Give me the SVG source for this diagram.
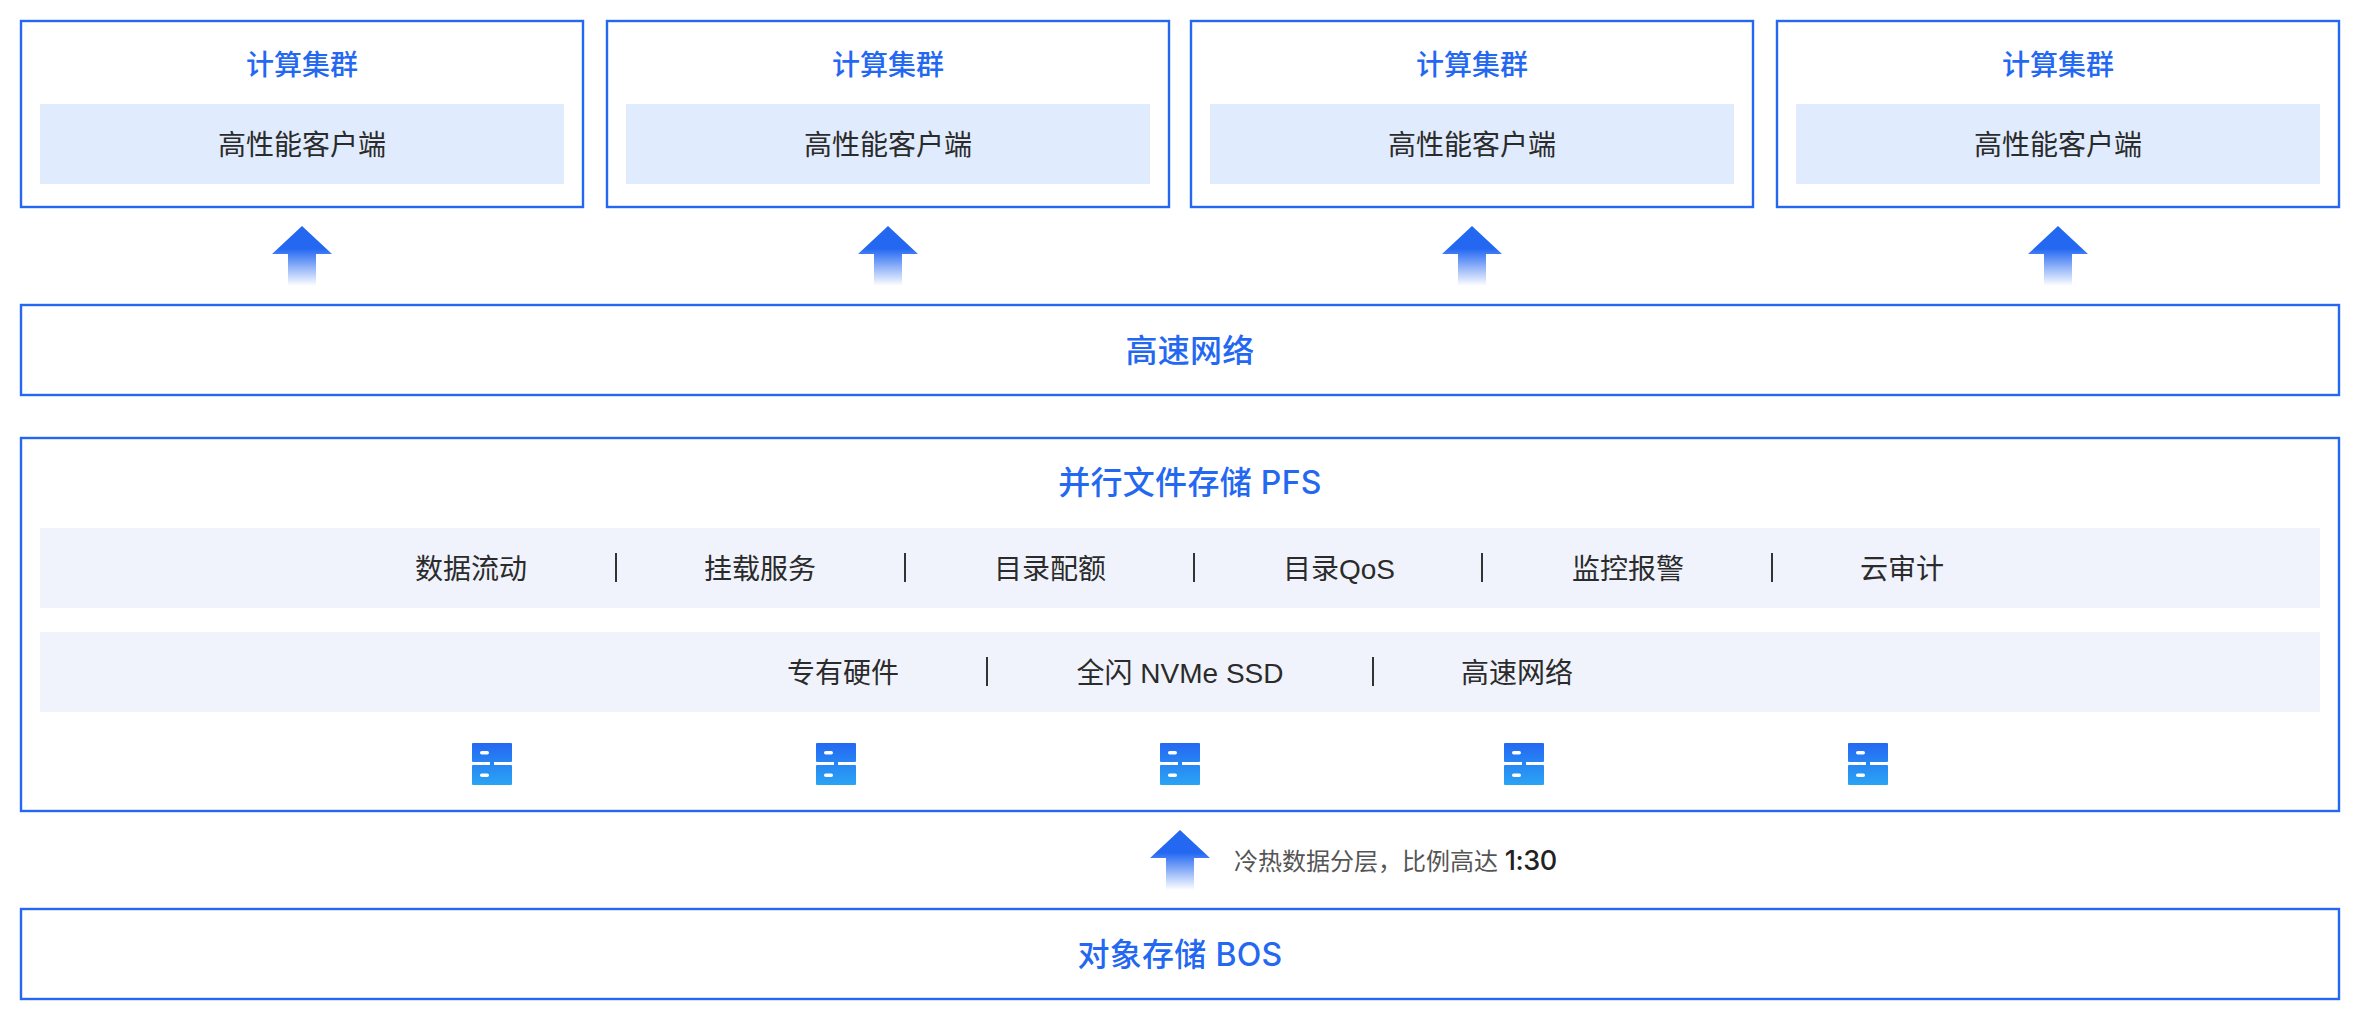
<svg xmlns="http://www.w3.org/2000/svg" xmlns:xlink="http://www.w3.org/1999/xlink" width="2360" height="1020" viewBox="0 0 2360 1020">
<style>
text{font-family:"Liberation Sans","Noto Sans CJK SC",sans-serif;text-anchor:middle}
.box{fill:#fff;stroke:#2468f2;stroke-width:2.400}
.lb{fill:#e0ecfd}
.band{fill:#f0f3fb}
.title{fill:#2468f2;font-size:28px;font-weight:500}
.head{fill:#2468f2;font-size:32px;font-weight:500;font-family:"Inter","Noto Sans CJK SC",sans-serif;letter-spacing:.3px}
.t{fill:#2b2b2b;font-size:28px;font-weight:400}
.sep{stroke:#333;stroke-width:2}
.note{fill:#555;font-size:24px;text-anchor:start}
.note tspan{fill:#222;font-size:27px;font-weight:500;font-family:"Inter",sans-serif;letter-spacing:-.4px}
</style>
<defs>
<linearGradient id="ag" x1="0" y1="0" x2="0" y2="1"><stop offset="0.38" stop-color="#2468f2"/><stop offset="1" stop-color="#2468f2" stop-opacity="0"/></linearGradient>
<linearGradient id="ig" x1="0" y1="0" x2="0" y2="1"><stop offset="0" stop-color="#2468f2"/><stop offset="1" stop-color="#2aa4f4"/></linearGradient>
<g id="arrow"><path d="M0 0L30 28H14V60H-14V28H-30Z" fill="url(#ag)"/></g>
<g id="icon"><path d="M1 0H39a1 1 0 0 1 1 1V18a1 1 0 0 1-1 1H22V22H39a1 1 0 0 1 1 1V41a1 1 0 0 1-1 1H1a1 1 0 0 1-1-1V23a1 1 0 0 1 1-1H18V19H1a1 1 0 0 1-1-1V1a1 1 0 0 1 1-1Z" fill="url(#ig)"/><rect x="8" y="8" width="9" height="3.500" rx="1.700" fill="#fff"/><rect x="8" y="30.500" width="9" height="3.500" rx="1.700" fill="#fff"/></g>
</defs>
<rect width="2360" height="1020" fill="#fff"/>
<g id="cluster-1"><rect class="box" x="21" y="21" width="562" height="186"/><text class="title" x="302" y="75">计算集群</text><rect class="lb" x="40" y="104" width="524" height="80"/><text class="t" x="302" y="155">高性能客户端</text></g>
<g id="cluster-2"><rect class="box" x="607" y="21" width="562" height="186"/><text class="title" x="888" y="75">计算集群</text><rect class="lb" x="626" y="104" width="524" height="80"/><text class="t" x="888" y="155">高性能客户端</text></g>
<g id="cluster-3"><rect class="box" x="1191" y="21" width="562" height="186"/><text class="title" x="1472" y="75">计算集群</text><rect class="lb" x="1210" y="104" width="524" height="80"/><text class="t" x="1472" y="155">高性能客户端</text></g>
<g id="cluster-4"><rect class="box" x="1777" y="21" width="562" height="186"/><text class="title" x="2058" y="75">计算集群</text><rect class="lb" x="1796" y="104" width="524" height="80"/><text class="t" x="2058" y="155">高性能客户端</text></g>
<g id="network"><rect class="box" x="21" y="305" width="2318" height="90"/><text class="head" x="1190" y="362">高速网络</text></g>
<g id="pfs"><rect class="box" x="21" y="438" width="2318" height="373"/><text class="head" x="1190" y="494">并行文件存储 PFS</text>
<rect class="band" x="40" y="528" width="2280" height="80"/>
<text class="t" x="471" y="579">数据流动</text><text class="t" x="760" y="579">挂载服务</text><text class="t" x="1050" y="579">目录配额</text><text class="t" x="1339" y="579">目录QoS</text><text class="t" x="1628" y="579">监控报警</text><text class="t" x="1902" y="579">云审计</text>
<path class="sep" d="M616 553V582M905 553V582M1194 553V582M1482 553V582M1772 553V582"/>
<rect class="band" x="40" y="632" width="2280" height="80"/>
<text class="t" x="843" y="683">专有硬件</text><text class="t" x="1180" y="683">全闪 NVMe SSD</text><text class="t" x="1517" y="683">高速网络</text>
<path class="sep" d="M987 657V686M1373 657V686"/>
<use href="#icon" x="472" y="743"/><use href="#icon" x="816" y="743"/><use href="#icon" x="1160" y="743"/><use href="#icon" x="1504" y="743"/><use href="#icon" x="1848" y="743"/>
</g>
<g id="bos"><rect class="box" x="21" y="909" width="2318" height="90"/><text class="head" x="1180" y="966">对象存储 BOS</text></g>
<g id="connectors">
<use href="#arrow" x="302" y="226"/><use href="#arrow" x="888" y="226"/><use href="#arrow" x="1472" y="226"/><use href="#arrow" x="2058" y="226"/><use href="#arrow" x="1180" y="830"/>
</g>
<text id="note" class="note" x="1234" y="870">冷热数据分层&#xFF0C;比例高达 <tspan>1:30</tspan></text>
</svg>
